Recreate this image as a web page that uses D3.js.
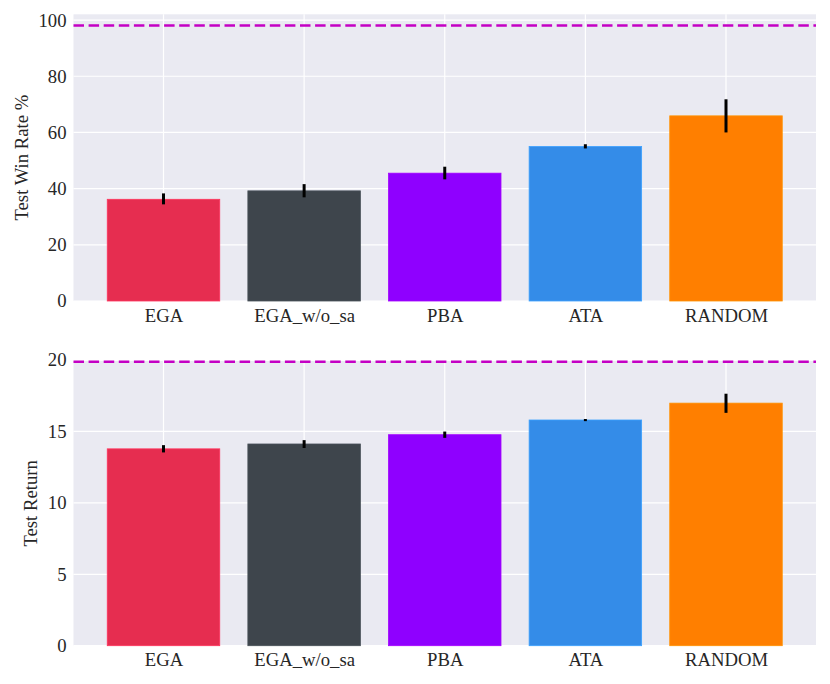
<!DOCTYPE html>
<html>
<head>
<meta charset="utf-8">
<script src="https://cdn.jsdelivr.net/npm/d3@7"></script>
<style>
  html, body { margin: 0; padding: 0; background: #fff; }
  svg { display: block; }
</style>
</head>
<body>
<svg id="chart" width="830" height="684"></svg>
<script>
// ---- data ----
const categories = ["EGA", "EGA_w/o_sa", "PBA", "ATA", "RANDOM"];
const barColors = ["#e62d50", "#3e454c", "#8f00ff", "#348ce8", "#ff7f00"];

const winRate = [36.2, 39.2, 45.5, 55.0, 65.9];
const winRateLow = [34.4, 36.9, 43.3, 54.3, 60.0];
const winRateHigh = [38.3, 41.6, 47.8, 55.8, 71.8];
const winRateRef = 98.1;
const winRateTicks = [0, 20, 40, 60, 80, 100];

const testReturn = [13.78, 14.12, 14.77, 15.80, 16.98];
const testReturnLow = [13.53, 13.84, 14.55, 15.72, 16.30];
const testReturnHigh = [14.04, 14.39, 14.99, 15.87, 17.64];
const testReturnRef = 19.88;
const testReturnTicks = [0, 5, 10, 15, 20];

// ---- drawing ----
const FONT = "Liberation Serif";
const svg = d3.select("#chart");

function styleText(sel) {
  sel.attr("font-family", FONT)
     .style("font-family", FONT)
     .style("font-size", "18.7px")
     .attr("fill", "#262626");
}

function panel(cfg) {
  const { top, bottom, left, right, yMax, values, low, high, ref, ticks, label, labelX, xPad } = cfg;
  const g = svg.append("g");

  const x = d3.scaleLinear().domain([-0.64, categories.length - 1 + 0.64]).range([left, right]);
  const y = d3.scaleLinear().domain([0, yMax]).range([bottom, top]);
  const barW = x(0.8) - x(0);

  g.append("rect")
    .attr("x", left).attr("y", top)
    .attr("width", right - left).attr("height", bottom - top)
    .attr("fill", "#eaeaf2");

  g.selectAll(".hg").data(ticks.filter(t => t <= yMax)).enter().append("line")
    .attr("x1", left).attr("x2", right)
    .attr("y1", d => y(d)).attr("y2", d => y(d))
    .attr("stroke", "#fff").attr("stroke-width", 1.2);
  g.selectAll(".vg").data(categories).enter().append("line")
    .attr("x1", (d, i) => x(i)).attr("x2", (d, i) => x(i))
    .attr("y1", top).attr("y2", bottom)
    .attr("stroke", "#fff").attr("stroke-width", 1.2);

  g.selectAll(".bar").data(values).enter().append("rect")
    .attr("x", (d, i) => x(i) - barW / 2)
    .attr("y", d => y(d))
    .attr("width", barW)
    .attr("height", d => y(0) - y(d))
    .attr("fill", (d, i) => barColors[i])
    .attr("stroke", (d, i) => d3.color(barColors[i]).brighter(0.4))
    .attr("stroke-width", 0.8);

  g.selectAll(".err").data(values).enter().append("line")
    .attr("x1", (d, i) => x(i)).attr("x2", (d, i) => x(i))
    .attr("y1", (d, i) => y(low[i])).attr("y2", (d, i) => y(high[i]))
    .attr("stroke", "#000").attr("stroke-width", 3);

  g.append("line")
    .attr("x1", left).attr("x2", right)
    .attr("y1", y(ref)).attr("y2", y(ref))
    .attr("stroke", "#c400c4").attr("stroke-width", 2.5)
    .attr("stroke-dasharray", "10.5 4.6");

  const ya = d3.axisLeft(y).tickValues(ticks).tickSize(0).tickPadding(7).tickFormat(d3.format("d"));
  const yg = g.append("g").attr("transform", `translate(${left},0)`).call(ya);
  yg.attr("font-family", FONT);
  yg.select(".domain").remove();
  styleText(yg.selectAll("text"));

  const xa = d3.axisBottom(x).tickValues(d3.range(categories.length)).tickSize(0).tickPadding(xPad)
    .tickFormat(i => categories[i]);
  const xg = g.append("g").attr("transform", `translate(0,${bottom})`).call(xa);
  xg.attr("font-family", FONT);
  xg.select(".domain").remove();
  styleText(xg.selectAll("text"));

  const lab = g.append("text")
    .attr("transform", `translate(${labelX},${(top + bottom) / 2}) rotate(-90)`)
    .attr("text-anchor", "middle")
    .attr("dominant-baseline", "central")
    .text(label);
  styleText(lab);
}

panel({ top: 14.3, bottom: 301, left: 73.5, right: 816, yMax: 102.05,
  values: winRate, low: winRateLow, high: winRateHigh, ref: winRateRef,
  ticks: winRateTicks, label: "Test Win Rate %", labelX: 21, xPad: 7.4 });

panel({ top: 361, bottom: 645.7, left: 73.5, right: 816, yMax: 19.93,
  values: testReturn, low: testReturnLow, high: testReturnHigh, ref: testReturnRef,
  ticks: testReturnTicks, label: "Test Return", labelX: 30, xPad: 6.8 });
</script>
</body>
</html>
